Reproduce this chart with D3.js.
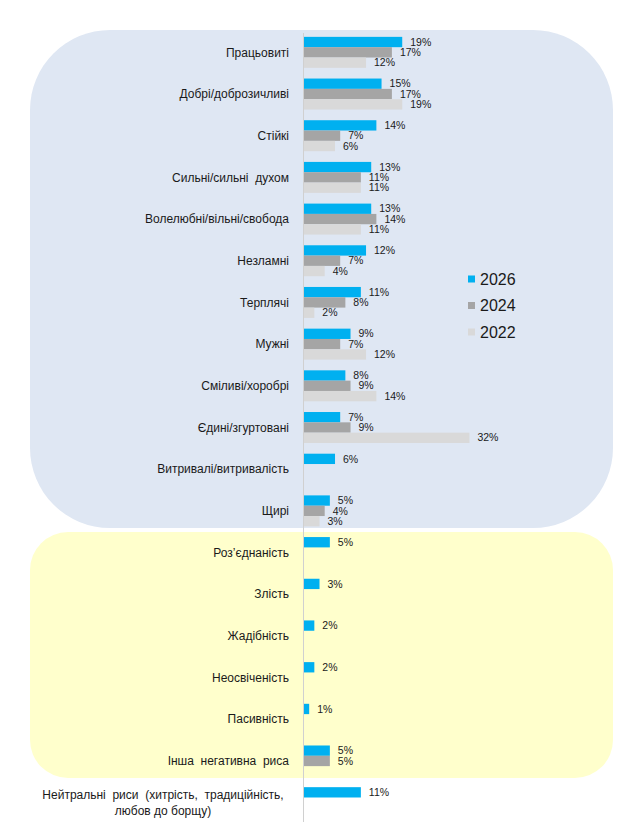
<!DOCTYPE html>
<html>
<head>
<meta charset="utf-8">
<script src="https://cdn.jsdelivr.net/npm/d3@7"></script>
<style>
  body { margin: 0; background: #fff; }
  svg { display: block; font-family: "Liberation Sans", Arial, sans-serif; }
</style>
</head>
<body>
<svg id="chart" width="643" height="832"></svg>
<script>
// categories, top to bottom
const categories = [
  "Працьовиті", "Добрі/доброзичливі", "Стійкі", "Сильні/сильні  духом",
  "Волелюбні/вільні/свобода", "Незламні", "Терплячі", "Мужні",
  "Сміливі/хоробрі", "Єдині/згуртовані", "Витривалі/витривалість", "Щирі",
  "Роз’єднаність", "Злість", "Жадібність", "Неосвіченість", "Пасивність",
  "Інша  негативна  риса",
  "Нейтральні  риси  (хитрість,  традиційність,|любов до борщу)"
];
const years = ["2026", "2024", "2022"];
const s2026 = [19, 15, 14, 13, 13, 12, 11, 9, 8, 7, 6, 5, 5, 3, 2, 2, 1, 5, 11];
const s2024 = [17, 17, 7, 11, 14, 7, 8, 7, 9, 9, null, 4, null, null, null, null, null, 5, null];
const s2022 = [12, 19, 6, 11, 11, 4, 2, 12, 14, 32, null, 3, null, null, null, null, null, null, null];
const colors = { "2026": "#00B0F0", "2024": "#A5A5A5", "2022": "#D9D9D9" };

const svg = d3.select("#chart");

// background panels (positive / negative traits)
svg.append("rect")
  .attr("x", 30).attr("y", 30).attr("width", 583).attr("height", 498)
  .attr("rx", 80).attr("ry", 80)
  .attr("fill", "#DFE7F3");
svg.append("rect")
  .attr("x", 30).attr("y", 532).attr("width", 583).attr("height", 246)
  .attr("rx", 38).attr("ry", 38)
  .attr("fill", "#FFFFCC");

const x = d3.scaleLinear().domain([0, 32]).range([304, 304 + 32 * 5.17]);
const y = d3.scaleBand().domain(categories).range([31.5, 823.5])
  .paddingInner(0.257).paddingOuter(0.1285);
const ySub = d3.scaleBand().domain(years).range([0, y.bandwidth()]);

const rows = categories.map((c, i) => ({
  cat: c,
  vals: [
    { year: "2026", v: s2026[i] },
    { year: "2024", v: s2024[i] },
    { year: "2022", v: s2022[i] }
  ].filter(d => d.v != null)
}));

// axis line
svg.append("line")
  .attr("x1", x(0) - 0.5).attr("x2", x(0) - 0.5)
  .attr("y1", 33).attr("y2", 822)
  .attr("stroke", "#D0D0D0").attr("stroke-width", 1);

const g = svg.selectAll("g.row").data(rows).join("g")
  .attr("class", "row")
  .attr("transform", d => `translate(0,${y(d.cat)})`);

g.selectAll("rect").data(d => d.vals).join("rect")
  .attr("x", x(0))
  .attr("y", d => ySub(d.year))
  .attr("width", d => x(d.v) - x(0))
  .attr("height", ySub.bandwidth())
  .attr("fill", d => colors[d.year]);

g.selectAll("text.val").data(d => d.vals).join("text")
  .attr("class", "val")
  .attr("x", d => x(d.v) + 8)
  .attr("y", d => ySub(d.year) + ySub.bandwidth() / 2)
  .attr("dy", "0.35em")
  .attr("font-size", 10.5)
  .attr("fill", "#1a1a1a")
  .text(d => d.v + "%");

// category labels
svg.selectAll("text.cat").data(categories).join("text")
  .attr("class", "cat")
  .attr("font-size", 12)
  .attr("fill", "#1a1a1a")
  .style("white-space", "pre")
  .each(function(c) {
    const lines = c.split("|");
    const t = d3.select(this);
    const cy = y(c) + y.bandwidth() / 2;
    if (lines.length === 1) {
      t.attr("x", 289).attr("y", cy).attr("dy", "0.35em")
        .attr("text-anchor", "end").text(c);
    } else {
      t.attr("text-anchor", "middle");
      lines.forEach((l, k) => {
        t.append("tspan").attr("x", 163)
          .attr("y", cy + (k - 0.5) * 16).attr("dy", "0.35em").text(l);
      });
    }
  });

// legend
const leg = svg.selectAll("g.leg").data(years).join("g")
  .attr("class", "leg")
  .attr("transform", (d, i) => `translate(468,${279 + i * 26.5})`);
leg.append("rect").attr("x", 0).attr("y", -3.5).attr("width", 7).attr("height", 7)
  .attr("fill", d => colors[d]);
leg.append("text").attr("x", 12).attr("dy", "0.35em")
  .attr("font-size", 16).attr("fill", "#1a1a1a").text(d => d);
</script>
</body>
</html>
